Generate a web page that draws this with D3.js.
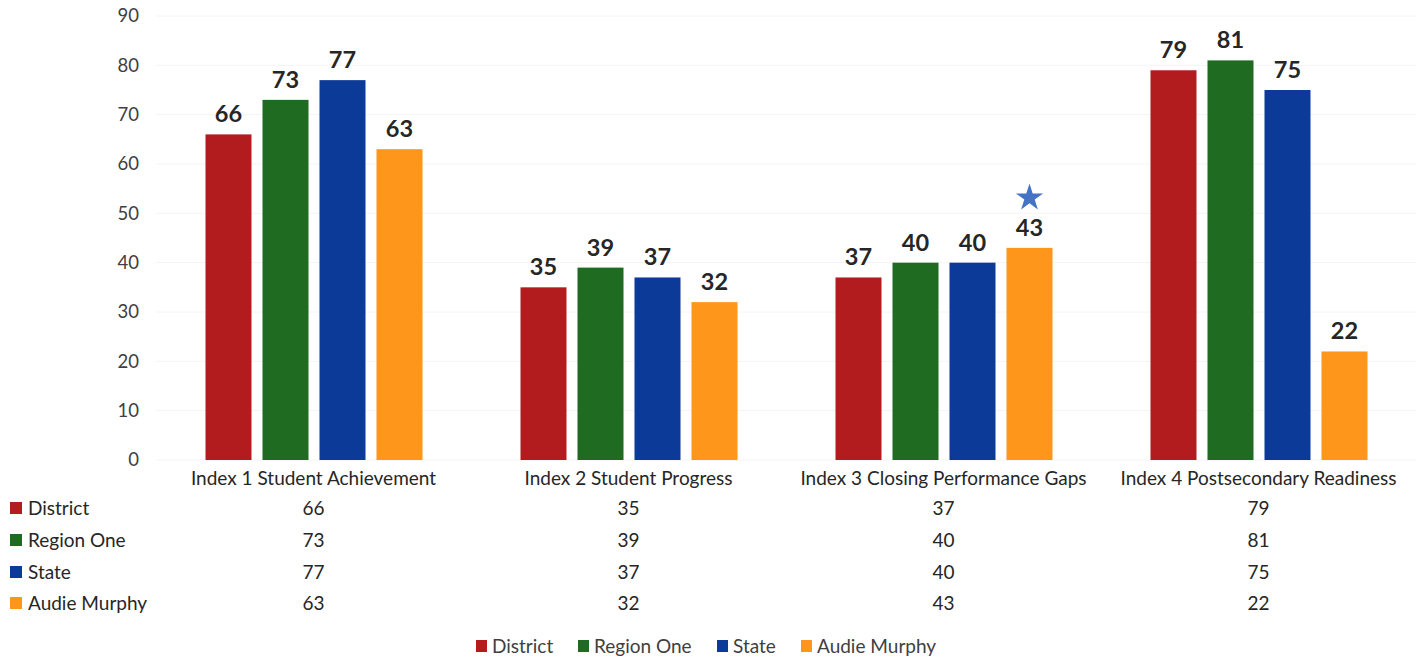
<!DOCTYPE html>
<html><head><meta charset="utf-8">
<script src="https://cdn.jsdelivr.net/npm/d3@7"></script>
<style>body{margin:0;background:#fff;}svg{display:block;}</style>
</head><body>
<svg id="c" width="1419" height="661"></svg>
<script>
const categories = ["Index 1 Student Achievement","Index 2 Student Progress","Index 3 Closing Performance Gaps","Index 4 Postsecondary Readiness"];
const seriesNames = ["District","Region One","State","Audie Murphy"];
const district = [66,35,37,79];
const regionOne = [73,39,40,81];
const state = [77,37,40,75];
const audieMurphy = [63,32,43,22];
const yTicks = [0,10,20,30,40,50,60,70,80,90];
const colors = ["#b21c1f","#1f6b21","#0b3a99","#fd961a"];
const seriesValues = [district, regionOne, state, audieMurphy];
const starCategory = 2, starSeries = 3;

const svg = d3.select("#c");
const font = "Lato, 'Open Sans', sans-serif";
const x0 = d3.scaleBand().domain(categories).range([156,1416]).padding(0);
const x1 = d3.scaleBand().domain(seriesNames).range([49.5, 266.5]).paddingInner(0.193);
const y = d3.scaleLinear().domain([0,90]).range([460,16]);

// gridlines
svg.append("g").selectAll("line").data(yTicks).join("line")
  .attr("x1",156).attr("x2",1416).attr("y1",d=>y(d)).attr("y2",d=>y(d))
  .attr("stroke","#f4f4f4").attr("stroke-width",1);

// y axis
const yAxis = d3.axisLeft(y).tickValues(yTicks).tickSize(0).tickPadding(0);
const ga = svg.append("g").attr("transform","translate(139,0)").call(yAxis);
ga.select(".domain").remove();
ga.selectAll("text").attr("font-family",font).attr("font-size",18.5).attr("fill","#404040");

// bars
const groups = svg.append("g").selectAll("g").data(categories).join("g")
  .attr("transform",d=>`translate(${x0(d)},0)`);
groups.each(function(cat,ci){
  const g = d3.select(this);
  const data = seriesNames.map((s,si)=>({s,si,v:seriesValues[si][ci]}));
  g.selectAll("rect").data(data).join("rect")
    .attr("x",d=>x1(d.s)).attr("width",x1.bandwidth())
    .attr("y",d=>y(d.v)).attr("height",d=>y(0)-y(d.v))
    .attr("fill",d=>colors[d.si]);
  g.selectAll("text.val").data(data).join("text").attr("class","val")
    .attr("x",d=>x1(d.s)+x1.bandwidth()/2).attr("y",d=>y(d.v)-12)
    .attr("text-anchor","middle").attr("font-family",font).attr("font-weight","bold")
    .attr("font-size",23.5).attr("fill","#262626").text(d=>d.v);
  if(ci===starCategory){
    const d = data[starSeries];
    g.append("path").attr("d",d3.symbol(d3.symbolStar, 230)())
      .attr("transform",`translate(${x1(d.s)+x1.bandwidth()/2},${y(d.v)-50})`)
      .attr("fill","#4472c4");
  }
});

// category labels
const xAxis = d3.axisBottom(x0).tickSize(0).tickPadding(12);
const gx = svg.append("g").attr("transform","translate(0,460)").call(xAxis);
gx.select(".domain").remove();
gx.selectAll("text").attr("font-family",font).attr("font-size",19).attr("fill","#262626");

// data table
const rowY = [508,540,572,603];
const tbl = svg.append("g");
seriesNames.forEach((s,si)=>{
  tbl.append("rect").attr("x",10).attr("y",rowY[si]-6).attr("width",12).attr("height",12).attr("fill",colors[si]);
  tbl.append("text").attr("x",28).attr("y",rowY[si]).attr("dy","0.35em")
    .attr("font-family",font).attr("font-size",19).attr("fill","#262626").text(s);
  categories.forEach((c,ci)=>{
    tbl.append("text").attr("x",x0(c)+x0.bandwidth()/2).attr("y",rowY[si]).attr("dy","0.35em")
      .attr("text-anchor","middle").attr("font-family",font).attr("font-size",19)
      .attr("fill","#262626").text(seriesValues[si][ci]);
  });
});

// legend
const legX = [476,578,717,801];
const leg = svg.append("g");
seriesNames.forEach((s,si)=>{
  leg.append("rect").attr("x",legX[si]).attr("y",640).attr("width",11).attr("height",12).attr("fill",colors[si]);
  leg.append("text").attr("x",legX[si]+16).attr("y",646).attr("dy","0.35em")
    .attr("font-family",font).attr("font-size",19).attr("fill","#404040").text(s);
});
</script>
</body></html>
